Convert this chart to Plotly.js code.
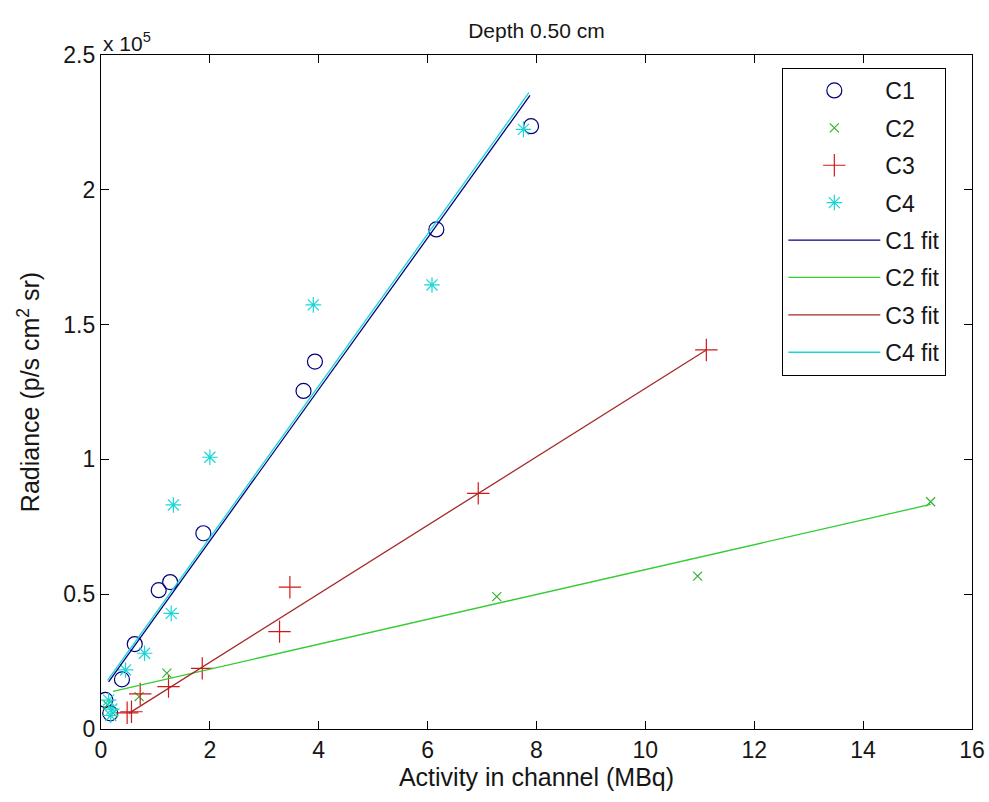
<!DOCTYPE html>
<html>
<head>
<meta charset="utf-8">
<script src="https://cdn.plot.ly/plotly-3.0.1.min.js"></script>
<style>
  html, body { margin: 0; padding: 0; background: #ffffff; }
  #chart { width: 989px; height: 802px; }
</style>
</head>
<body>
<div id="chart"></div>
<script>
// Measured channel data: activity (MBq) vs radiance (p/s cm^2 sr)
const c1X = [0.08, 0.17, 0.385, 0.62, 1.06, 1.27, 1.88, 3.72, 3.93, 6.16, 7.90];
const c1Y = [10800, 5800, 18400, 31500, 51500, 54500, 72600, 125400, 136300, 185300, 223600];

const c2X = [0.12, 0.22, 0.70, 1.21, 7.27, 10.96, 15.24];
const c2Y = [9000, 6000, 12000, 20700, 49100, 56700, 84300];

const c3X = [0.48, 0.56, 0.72, 1.24, 1.86, 3.28, 3.47, 6.93, 11.12];
const c3Y = [6000, 6400, 13000, 15700, 22500, 36100, 52600, 87400, 140600];

const c4X = [0.14, 0.18, 0.20, 0.45, 0.80, 1.29, 1.33, 2.00, 3.90, 6.08, 7.76];
const c4Y = [10700, 5000, 7400, 21900, 28100, 42900, 83100, 100800, 157300, 164700, 222400];

// Linear fit end points for each channel
const c1FitX = [0.14, 7.88];
const c1FitY = [17500, 235000];
const c2FitX = [0.22, 15.24];
const c2FitY = [14000, 83300];
const c3FitX = [0.51, 11.12];
const c3FitY = [5800, 140600];
const c4FitX = [0.12, 7.86];
const c4FitY = [18000, 236000];

// Axis ticks
const xTicks = [0, 2, 4, 6, 8, 10, 12, 14, 16];
const yTickVals = [0, 50000, 100000, 150000, 200000, 250000];
const yTickText = ['0', '0.5', '1', '1.5', '2', '2.5'];

const navy = '#00007f';
const green = '#2fb52f';
const greenLine = '#33cc33';
const red = '#d01818';
const redLine = '#a52828';
const cyan = '#19d6d6';

const FONT = 'Liberation Sans, Arial, Helvetica, sans-serif';
const INK = '#161616';

function pts(name, x, y, symbol, size, color, grp) {
  return {
    type: 'scatter', mode: 'markers', name: name, x: x, y: y,
    legendgroup: grp,
    marker: { symbol: symbol, size: size, color: color, line: { color: color, width: 1.2 } }
  };
}
function fit(name, x, y, color, grp) {
  return {
    type: 'scatter', mode: 'lines', name: name, x: x, y: y,
    legendgroup: grp,
    line: { color: color, width: 1.3 }
  };
}

const data = [
  pts('C1', c1X, c1Y, 'circle-open', 15, navy, 'g1'),
  pts('C2', c2X, c2Y, 'x-thin-open', 9, green, 'g2'),
  pts('C3', c3X, c3Y, 'cross-thin-open', 16, red, 'g3'),
  pts('C4', c4X, c4Y, 'asterisk-open', 13, cyan, 'g4'),
  fit('C1 fit', c1FitX, c1FitY, navy, 'g5'),
  fit('C2 fit', c2FitX, c2FitY, greenLine, 'g6'),
  fit('C3 fit', c3FitX, c3FitY, redLine, 'g7'),
  fit('C4 fit', c4FitX, c4FitY, cyan, 'g8')
];

const axisCommon = {
  showline: true, linecolor: '#000', linewidth: 1.2,
  mirror: 'ticks', ticks: 'inside', ticklen: 8, tickwidth: 1.2, tickcolor: '#000',
  showgrid: false, zeroline: false,
  tickfont: { family: FONT, size: 23, color: INK }
};

const layout = {
  width: 989, height: 802,
  paper_bgcolor: '#ffffff', plot_bgcolor: '#ffffff',
  margin: { l: 101, r: 17, t: 55, b: 73 },
  showlegend: true,
  font: { family: FONT, color: INK },
  title: {
    text: 'Depth 0.50 cm',
    font: { family: FONT, size: 21, color: INK },
    x: 0.5, xref: 'paper', xanchor: 'center',
    y: 1, yref: 'paper', yanchor: 'bottom', pad: { b: 17 }
  },
  xaxis: Object.assign({}, axisCommon, {
    range: [0, 16], tickvals: xTicks, ticktext: xTicks.map(String),
    title: { text: 'Activity in channel (MBq)', font: { family: FONT, size: 25, color: INK }, standoff: 1 }
  }),
  yaxis: Object.assign({}, axisCommon, {
    range: [0, 250000], tickvals: yTickVals, ticktext: yTickText,
    title: { text: 'Radiance (p/s cm<sup>2</sup> sr)', font: { family: FONT, size: 25, color: INK }, standoff: 16 }
  }),
  legend: {
    x: 0.782, y: 0.981, xanchor: 'left', yanchor: 'top',
    bgcolor: '#ffffff', bordercolor: '#000', borderwidth: 1.2,
    font: { family: FONT, size: 23, color: INK },
    traceorder: 'grouped', tracegroupgap: 4.5,
    itemwidth: 92
  },
  annotations: [{
    text: 'x 10<sup>5</sup>', xref: 'paper', yref: 'paper',
    x: 0, y: 1, xanchor: 'left', yanchor: 'bottom', showarrow: false,
    font: { family: FONT, size: 21, color: INK }, yshift: -2
  }]
};

Plotly.newPlot('chart', data, layout, { displayModeBar: false, staticPlot: true });
</script>
</body>
</html>
